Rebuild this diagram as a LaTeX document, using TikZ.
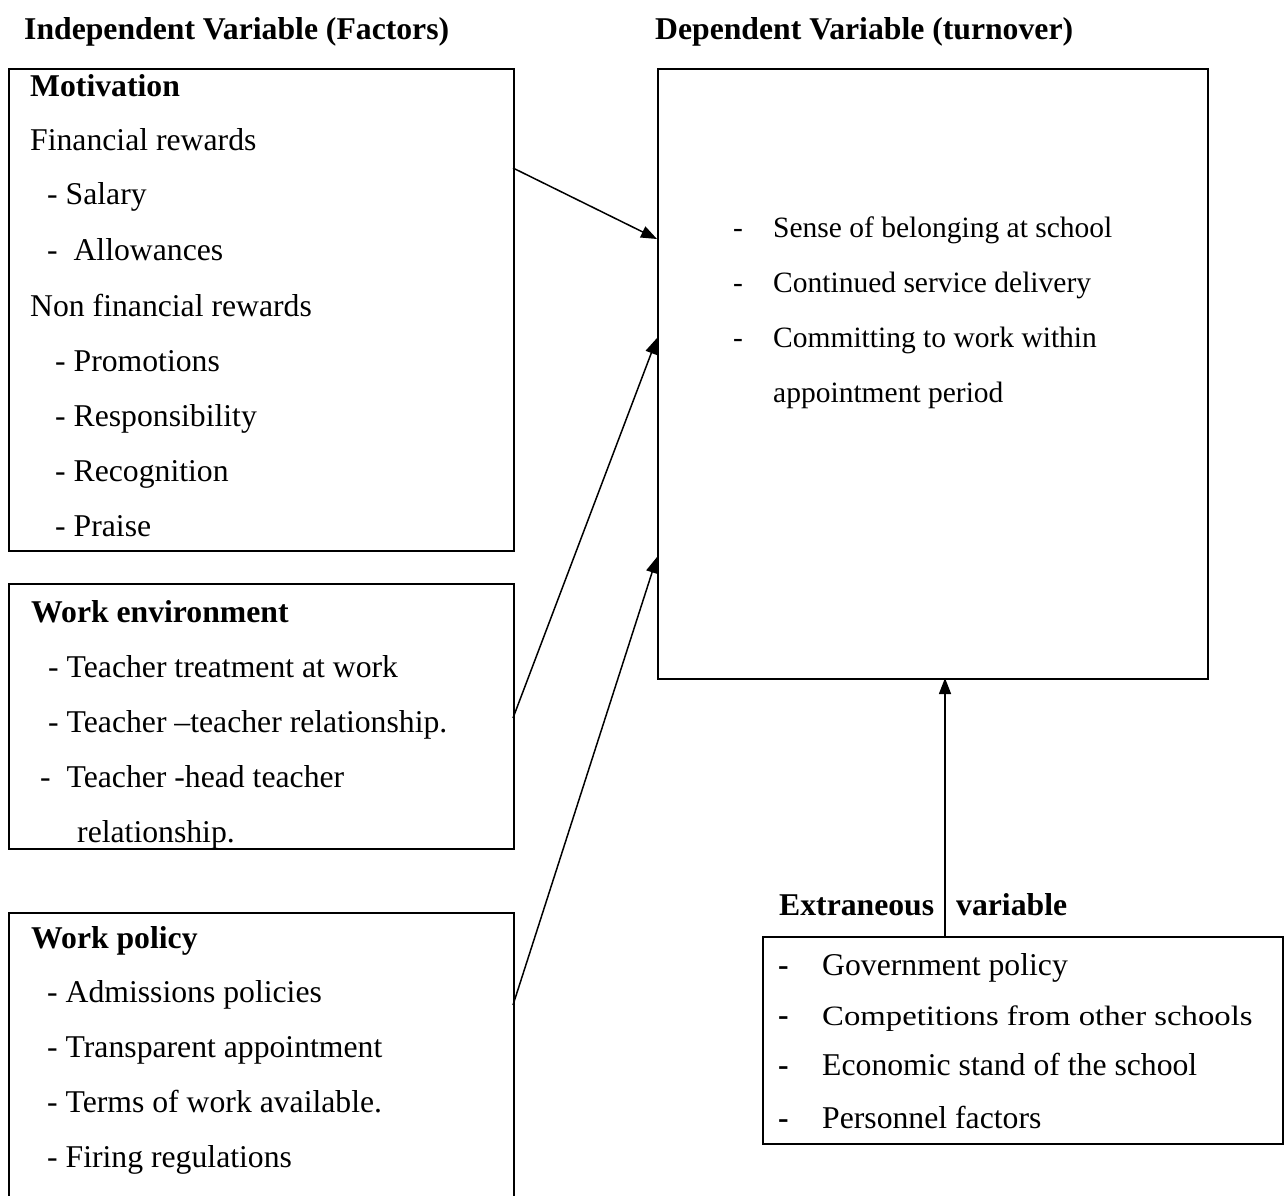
\documentclass[tikz,border=0pt]{standalone}
\usepackage{fontspec}
\setmainfont{Liberation Serif}
\usetikzlibrary{arrows.meta}
\tikzset{
  box/.style={draw, line width=1.6pt, inner sep=0pt, anchor=north west},
  txt/.style={anchor=base west, inner sep=0pt, font=\fontsize{31.7}{38}\selectfont},
  btxt/.style={anchor=base west, inner sep=0pt, font=\fontsize{31.7}{38}\selectfont\bfseries},
  dtxt/.style={anchor=base west, inner sep=0pt, font=\fontsize{29.5}{36}\selectfont},
  arr/.style={line width=1.5pt, -{Triangle[length=16pt,width=12pt]}}
}
\begin{document}
\begin{tikzpicture}[x=1pt,y=-1pt]
\useasboundingbox (0,0) rectangle (1285,1195);
\clip (0,0) rectangle (1285,1195);

% titles
\node[btxt] (tind) at (24,39) {Independent Variable (Factors)};
\node[btxt] (tdep) at (655,39) {Dependent Variable (turnover)};

% boxes
\node[box, minimum width=505pt, minimum height=482pt] (mot) at (8,68) {};
\node[box, minimum width=505pt, minimum height=265pt] (env) at (8,583) {};
\node[box, minimum width=505pt, minimum height=300pt] (pol) at (8,912) {};
\node[box, minimum width=550pt, minimum height=610pt] (dep) at (657,68) {};
\node[box, minimum width=520pt, minimum height=207pt] (ext) at (762,936) {};

% motivation box text
\node[btxt] (m0) at (30,96) {Motivation};
\node[txt] (m1) at (30,150) {Financial rewards};
\node[txt] (m2) at (47,204) {- Salary};
\node[txt] (m3) at (47,260) {- ~Allowances};
\node[txt] (m4) at (30,316) {Non financial rewards};
\node[txt] (m5) at (55,371) {- Promotions};
\node[txt] (m6) at (55,426) {- Responsibility};
\node[txt] (m7) at (55,481) {- Recognition};
\node[txt] (m8) at (55,536) {- Praise};

% work environment text
\node[btxt] (e0) at (31,622) {Work environment};
\node[txt] (e1) at (48,677) {- Teacher treatment at work};
\node[txt] (e2) at (48,732) {- Teacher –teacher relationship.};
\node[txt] (e3) at (40,787) {- ~Teacher -head teacher};
\node[txt] (e4) at (77,842) {relationship.};

% work policy text
\node[btxt] (p0) at (31,948) {Work policy};
\node[txt] (p1) at (47,1002) {- Admissions policies};
\node[txt] (p2) at (47,1057) {- Transparent appointment};
\node[txt] (p3) at (47,1112) {- Terms of work available.};
\node[txt] (p4) at (47,1167) {- Firing regulations};

% dependent text
\node[dtxt] (dd1) at (733,237) {-};
\node[dtxt] (d1) at (773,237) {Sense of belonging at school};
\node[dtxt] (dd2) at (733,292) {-};
\node[dtxt] (d2) at (773,292) {Continued service delivery};
\node[dtxt] (dd3) at (733,347) {-};
\node[dtxt] (d3) at (773,347) {Committing to work within};
\node[dtxt] (d4) at (773,402) {appointment period};

% extraneous
\node[btxt] (x0) at (779,915) {Extraneous};
\node[btxt] (x1) at (956,915) {variable};
\node[btxt] (xd1) at (778,975) {-};
\node[txt] (xt1) at (822,975) {Government policy};
\node[btxt] (xd2) at (778,1025) {-};
\node[anchor=base west, inner sep=0pt] (xt2) at (822,1025) {\scalebox{1.17}[1]{\fontsize{28}{34}\selectfont Competitions from other schools}};
\node[btxt] (xd3) at (778,1075) {-};
\node[txt] (xt3) at (822,1075) {Economic stand of the school};
\node[btxt] (xd4) at (778,1128) {-};
\node[txt] (xt4) at (822,1128) {Personnel factors};

% connector end points
\coordinate (s1) at (513,168);
\coordinate (t1) at (657,239);
\coordinate (s2) at (513,718);
\coordinate (t2) at (657,338);
\coordinate (s3) at (513,1005);
\coordinate (t3) at (657,557);
\coordinate (s4) at (945,936);
\coordinate (t4) at (945,678);

\draw[arr] (s1) -- (t1);
\draw[arr] (s2) -- (t2);
\draw[arr] (s3) -- (t3);
\draw[arr] (s4) -- (t4);
\end{tikzpicture}
\end{document}
